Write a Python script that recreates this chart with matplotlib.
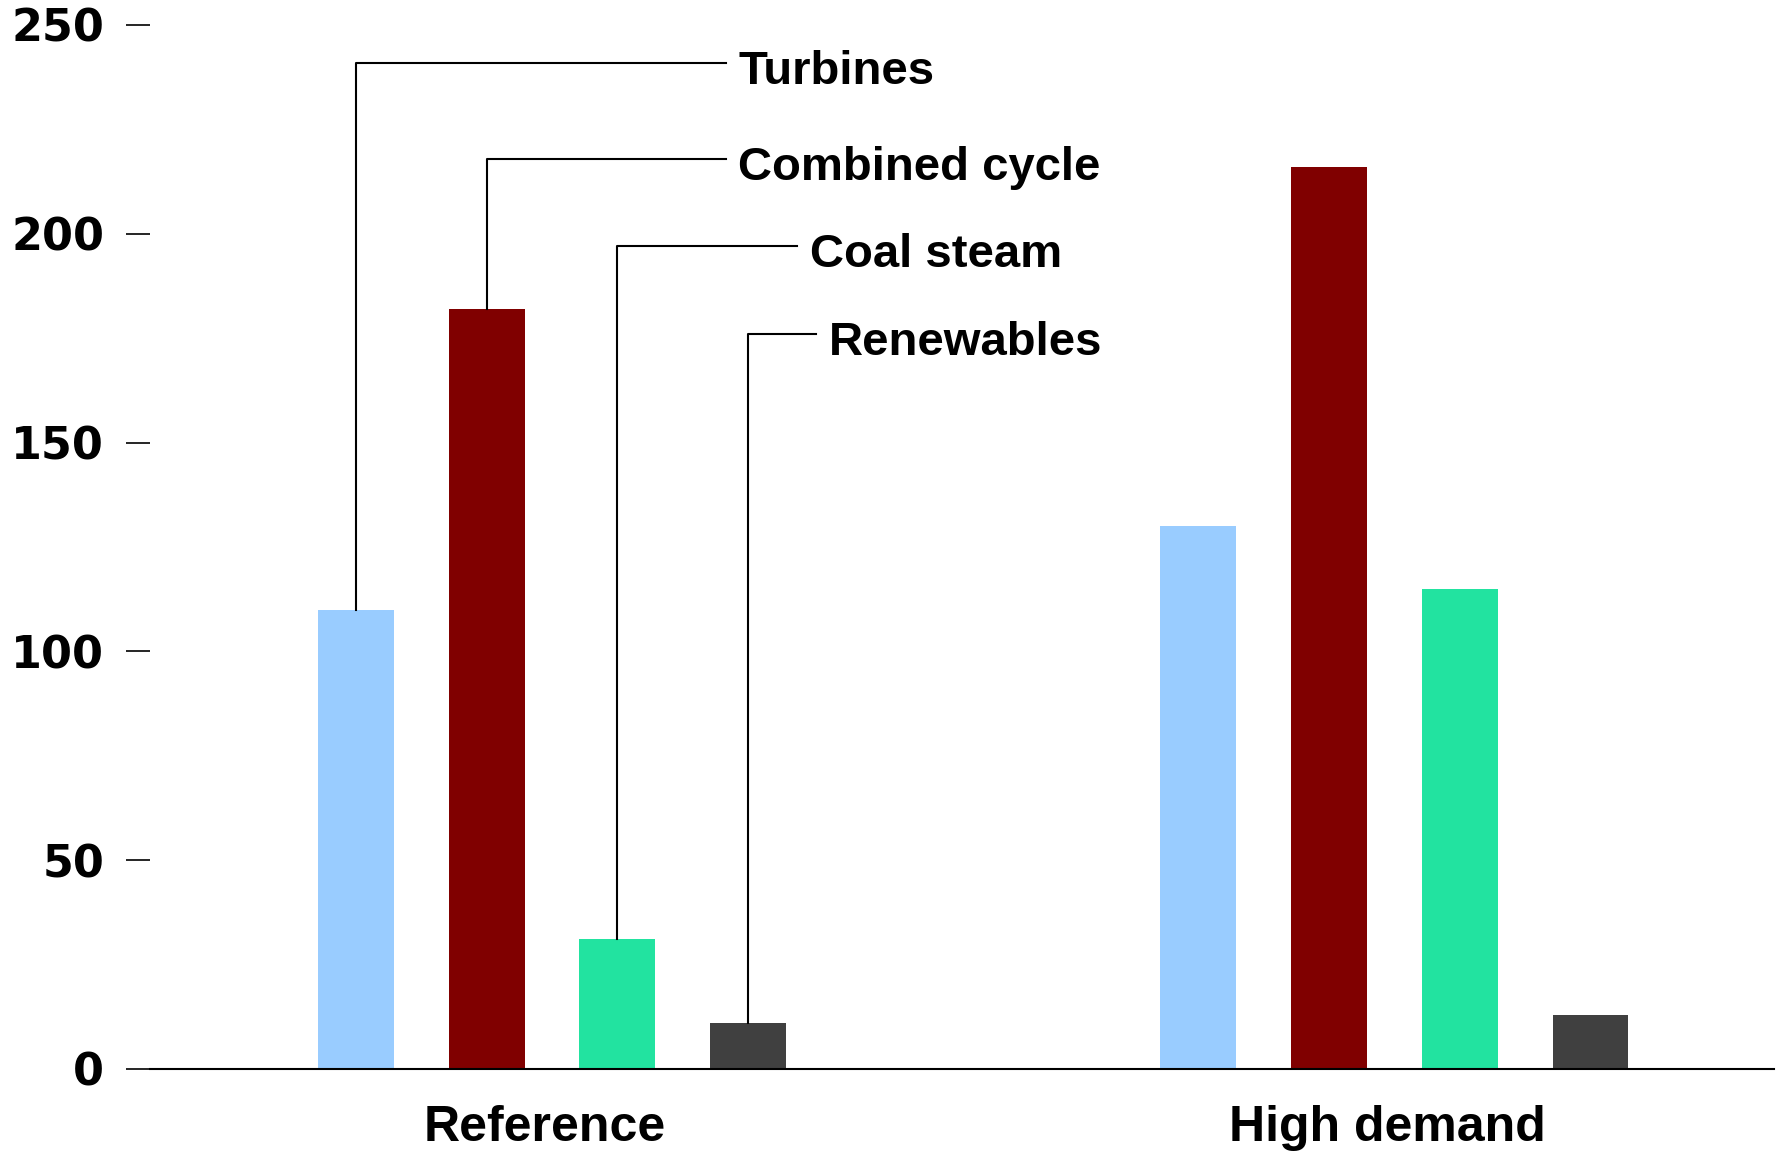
import matplotlib
matplotlib.use('Agg')
import matplotlib.pyplot as plt
import matplotlib.transforms as mtransforms
import numpy as np

plt.rcParams['font.family'] = ['Liberation Sans', 'DejaVu Sans']

# data
scenarios = ['Reference', 'High demand']
techs = ['Turbines', 'Combined cycle', 'Coal steam', 'Renewables']
turbines = [110, 130]
combined_cycle = [182, 216]
coal_steam = [31, 115]
renewables = [11, 13]
yticks = [0, 50, 100, 150, 200, 250]

colors = ['#99ccff', '#800000', '#22e3a0', '#404040']

# layout for label leaders: (label y, end x of horizontal line)
leader_y = [241, 218, 197, 176]
leader_end = [0.2065, 0.2065, 0.2912, 0.3140]

fig = plt.figure(figsize=(17.78, 11.55), dpi=100)
ax = fig.add_axes([0.0844, 0.0745, 0.9136, 0.9039])

x = np.arange(len(scenarios))
spacing = 0.1551
width = 0.0901
series = [turbines, combined_cycle, coal_steam, renewables]
for i, vals in enumerate(series):
    off = (i - 1.5) * spacing
    ax.bar(x + off, vals, width=width, color=colors[i], zorder=2)
    # leader line from first-group bar to label
    bx = x[0] + off
    ax.plot([bx, bx, leader_end[i]], [vals[0], leader_y[i], leader_y[i]],
            color='black', lw=1.5, zorder=3, clip_on=False)
    ax.annotate(techs[i], (leader_end[i], leader_y[i]), xytext=(9, -3),
                textcoords='offset points', fontsize=34, fontweight='bold',
                va='center_baseline', ha='left')

ax.set_xlim(-0.477, 1.451)
ax.set_ylim(0, 250)
ax.set_yticks(yticks)
ax.set_yticklabels([str(t) for t in yticks], fontsize=32, fontweight='bold',
                   family='DejaVu Sans')
ax.tick_params(axis='y', length=17, width=1.2, pad=16)
ax.set_xticks(x)
ax.set_xticklabels(scenarios, fontsize=36, fontweight='bold')
ax.tick_params(axis='x', length=0, pad=26)

# nudge category labels slightly left
shift = mtransforms.ScaledTranslation(-5 / 72, 0, fig.dpi_scale_trans)
for lbl in ax.get_xticklabels():
    lbl.set_transform(lbl.get_transform() + shift)

for s in ['left', 'right', 'top']:
    ax.spines[s].set_visible(False)
ax.spines['bottom'].set_linewidth(1.5)

fig.savefig('out.png', dpi=100, facecolor='white')
